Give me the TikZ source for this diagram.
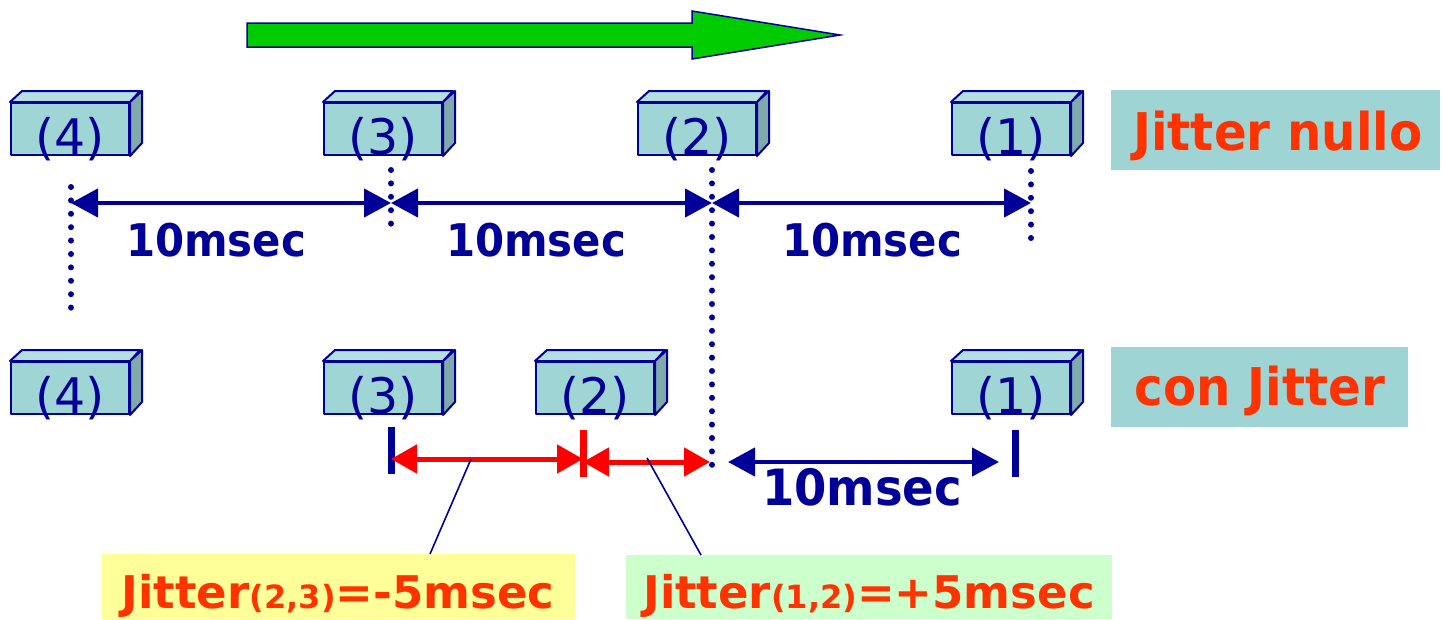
\documentclass[tikz,border=0pt]{standalone}
\usepackage{fontspec}
\setmainfont{DejaVu Sans}
\newfontfamily\narrowbold{DejaVu Sans}[FakeStretch=0.93]
\usetikzlibrary{arrows.meta}

\definecolor{darknavy}{RGB}{0,0,153}
\definecolor{cubefill}{RGB}{160,213,213}
\definecolor{cubetopfill}{RGB}{180,224,224}
\definecolor{cubesidefill}{RGB}{128,170,170}
\definecolor{tealbox}{RGB}{158,212,212}
\definecolor{jred}{RGB}{255,51,0}
\definecolor{paleyellow}{RGB}{255,255,153}
\definecolor{palegreen}{RGB}{204,255,204}
\definecolor{arrowgreen}{RGB}{0,204,0}

% one packet drawn as a small 3-D box: name, x, y of front top-left corner, label
\newcommand\packetbox[4]{%
  \node[cubefront, anchor=north west] (#1) at (#2,#3) {};
  \filldraw[cubeedge, fill=cubetopfill] (#1.north west) -- ++(12,-11) -- ++(118,0) -- (#1.north east) -- cycle;
  \filldraw[cubeedge, fill=cubesidefill] (#1.north east) -- ++(12,-11) -- ++(0,52) -- (#1.south east) -- cycle;
  \node[cubelabel, anchor=base] (#1-t) at ([yshift=2pt]#1.south) {#4};
}

\begin{document}
\begin{tikzpicture}[x=1pt, y=-1pt,
  cubeedge/.style={draw=darknavy, line width=2pt, line join=round},
  cubefront/.style={cubeedge, fill=cubefill, minimum width=118pt, minimum height=52pt, inner sep=0pt},
  cubelabel/.style={text=darknavy, inner sep=0pt, font=\fontsize{49}{49}\selectfont},
  dotline/.style={draw=darknavy, line width=6pt, line cap=round, dash pattern=on 0pt off 13.4pt},
  dimarrow/.style={draw=darknavy, line width=4.5pt,
    arrows={Triangle[length=27pt 0 0,width=28pt 0 0]-Triangle[length=27pt 0 0,width=28pt 0 0]}},
  jitarrow/.style={draw=red, line width=5pt,
    arrows={Triangle[length=26pt 0 0,width=28pt 0 0]-Triangle[length=26pt 0 0,width=28pt 0 0]}},
  tickmark/.style={line width=7pt},
  leader/.style={draw=darknavy, line width=1.6pt},
  dimlabel/.style={text=darknavy, inner sep=0pt, font=\narrowbold\bfseries\fontsize{45}{45}\selectfont},
  bigtxt/.style={text=jred, inner sep=0pt, font=\narrowbold\bfseries\fontsize{52}{52}\selectfont},
  jittxt/.style={text=jred, inner sep=0pt, font=\bfseries\fontsize{45}{45}\selectfont},
  labelbox/.style={anchor=north west, inner sep=0pt, draw=none}
]
\useasboundingbox (0,0) rectangle (1443,619);

% direction of travel
\filldraw[draw=darknavy, line width=1.5pt, fill=arrowgreen, line join=miter]
  (247,23) -- (692,23) -- (692,11) -- (840,35) -- (692,59) -- (692,47) -- (247,47) -- cycle;

% packets without jitter
\packetbox{a4}{10}{102}{(4)}
\packetbox{a3}{323}{102}{(3)}
\packetbox{a2}{637}{102}{(2)}
\packetbox{a1}{951}{102}{(1)}

% packets with jitter
\packetbox{b4}{10}{361}{(4)}
\packetbox{b3}{323}{361}{(3)}
\packetbox{b2}{535}{361}{(2)}
\packetbox{b1}{951}{361}{(1)}

% reference instants
\coordinate (p4top) at (71,187);   \coordinate (p4bot) at (71,308);
\coordinate (p3top) at (391,170);  \coordinate (p3bot) at (391,225);
\coordinate (p2top) at (712,170);  \coordinate (p2bot) at (712,467);
\coordinate (p1top) at (1031,171); \coordinate (p1bot) at (1031,238);
\draw[dotline] (p4top) -- (p4bot);
\draw[dotline] (p3top) -- (p3bot);
\draw[dotline] (p2top) -- (p2bot);
\draw[dotline] (p1top) -- (p1bot);

% regular spacing
\coordinate (m4) at (71,203);
\coordinate (m3) at (391,203);
\coordinate (m2) at (712,203);
\coordinate (m1) at (1031,203);
\draw[dimarrow] (m4) -- (m3);
\draw[dimarrow] (m3) -- (m2);
\draw[dimarrow] (m2) -- (m1);
\node[dimlabel, anchor=base] (d43) at (216,256) {10msec};
\node[dimlabel, anchor=base] (d32) at (536,256) {10msec};
\node[dimlabel, anchor=base] (d21) at (872,256) {10msec};

% arrival marks with jitter
\coordinate (k3a) at (391,427); \coordinate (k3b) at (391,474);
\coordinate (k2a) at (583,430); \coordinate (k2b) at (583,477);
\coordinate (k1a) at (1015,430); \coordinate (k1b) at (1015,477);
\draw[tickmark, darknavy] (k3a) -- (k3b);
\draw[tickmark, red] (k2a) -- (k2b);
\draw[tickmark, darknavy] (k1a) -- (k1b);

\coordinate (r3) at (391,459);
\coordinate (r2) at (583,459);
\coordinate (s2) at (583,462);
\coordinate (s1) at (710,462);
\draw[jitarrow] (r3) -- (r2);
\draw[jitarrow] (s2) -- (s1);

\coordinate (u2) at (728,462);
\coordinate (u1) at (999,462);
\draw[dimarrow] (u2) -- (u1);
\node[dimlabel, anchor=base, font=\narrowbold\bfseries\fontsize{50}{50}\selectfont] (d21b) at (862,505) {10msec};

% state labels
\node[labelbox, fill=tealbox, minimum width=329pt, minimum height=80pt] (nullobox) at (1111,90) {};
\node[bigtxt, anchor=base] (nullotxt) at (1278,150) {Jitter nullo};
\node[labelbox, fill=tealbox, minimum width=297pt, minimum height=80pt] (conbox) at (1111,347) {};
\node[bigtxt, anchor=base] (contxt) at (1260,405) {con Jitter};

% jitter values
\node[labelbox, fill=paleyellow, minimum width=473pt, minimum height=65pt] (ybox) at (102,554) {};
\node[jittxt, anchor=base] (ytxt) at (338,608) {Jitter{\fontsize{32}{32}\selectfont(2,3)}=-5msec};
\node[labelbox, fill=palegreen, minimum width=486pt, minimum height=64pt] (gbox) at (626,555) {};
\node[jittxt, anchor=base] (gtxt) at (869,608) {Jitter{\fontsize{32}{32}\selectfont(1,2)}=+5msec};

% leaders from the jitter intervals to their values
\coordinate (l1a) at (471,459); \coordinate (l1b) at (430,554);
\coordinate (l2a) at (647,458); \coordinate (l2b) at (701,555);
\draw[leader] (l1a) -- (l1b);
\draw[leader] (l2a) -- (l2b);
\end{tikzpicture}
\end{document}
